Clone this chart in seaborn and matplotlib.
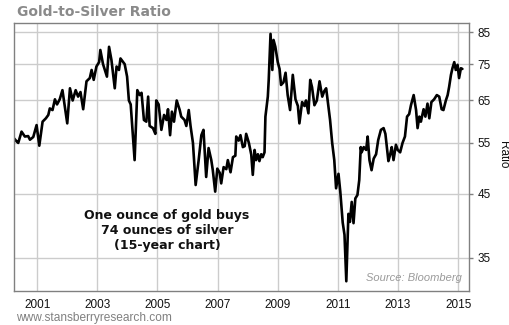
import matplotlib
matplotlib.use("Agg")
import matplotlib.pyplot as plt
import matplotlib.ticker as mticker
import numpy as np
import pandas as pd
import seaborn as sns

# Weekly-ish gold-to-silver ratio, decimal years
years = [
    2000.23, 2000.32, 2000.37, 2000.48, 2000.59, 2000.70, 2000.76, 2000.87, 2000.98, 2001.07,
    2001.18, 2001.29, 2001.37, 2001.42, 2001.51, 2001.59, 2001.66, 2001.75, 2001.84, 2001.92,
    2002.00, 2002.09, 2002.18, 2002.28, 2002.36, 2002.44, 2002.53, 2002.64, 2002.75, 2002.81,
    2002.88, 2002.97, 2003.06, 2003.10, 2003.19, 2003.32, 2003.39, 2003.47, 2003.58, 2003.64,
    2003.72, 2003.77, 2003.91, 2003.99, 2004.05, 2004.11, 2004.24, 2004.33, 2004.41, 2004.47,
    2004.55, 2004.63, 2004.69, 2004.74, 2004.85, 2004.93, 2004.96, 2005.04, 2005.13, 2005.22,
    2005.30, 2005.35, 2005.42, 2005.48, 2005.55, 2005.64, 2005.74, 2005.79, 2005.90, 2005.96,
    2006.04, 2006.10, 2006.18, 2006.27, 2006.37, 2006.46, 2006.53, 2006.62, 2006.70, 2006.79,
    2006.84, 2006.92, 2006.99, 2007.07, 2007.12, 2007.20, 2007.29, 2007.34, 2007.43, 2007.51,
    2007.59, 2007.62, 2007.70, 2007.76, 2007.84, 2007.90, 2007.95, 2008.04, 2008.12, 2008.17,
    2008.23, 2008.28, 2008.34, 2008.39, 2008.45, 2008.50, 2008.56, 2008.59, 2008.67, 2008.70,
    2008.76, 2008.82, 2008.86, 2008.92, 2009.00, 2009.06, 2009.11, 2009.19, 2009.26, 2009.33,
    2009.41, 2009.50, 2009.59, 2009.67, 2009.72, 2009.81, 2009.89, 2009.94, 2010.02, 2010.08,
    2010.14, 2010.22, 2010.30, 2010.39, 2010.48, 2010.55, 2010.61, 2010.66, 2010.74, 2010.81,
    2010.88, 2010.94, 2011.02, 2011.08, 2011.16, 2011.22, 2011.28, 2011.35, 2011.40, 2011.46,
    2011.52, 2011.58, 2011.65, 2011.71, 2011.76, 2011.79, 2011.86, 2011.94, 2011.99, 2012.05,
    2012.12, 2012.19, 2012.27, 2012.34, 2012.43, 2012.52, 2012.58, 2012.63, 2012.68, 2012.74,
    2012.79, 2012.85, 2012.93, 2012.99, 2013.07, 2013.15, 2013.23, 2013.30, 2013.37, 2013.43,
    2013.52, 2013.60, 2013.65, 2013.71, 2013.76, 2013.85, 2013.91, 2013.98, 2014.04, 2014.11,
    2014.20, 2014.29, 2014.37, 2014.45, 2014.51, 2014.59, 2014.65, 2014.70, 2014.76, 2014.81,
    2014.87, 2014.92, 2014.98, 2015.03, 2015.09, 2015.14,
]
ratio = [
    56.0, 55.3, 55.0, 57.5, 56.4, 56.5, 55.7, 56.3, 59.0, 54.4,
    59.8, 60.6, 61.4, 63.0, 62.6, 65.3, 64.0, 65.3, 67.7, 63.4,
    59.4, 68.2, 65.0, 67.7, 66.0, 67.2, 62.8, 70.1, 71.0, 73.3,
    70.5, 74.3, 75.6, 79.3, 75.0, 71.4, 80.3, 76.2, 68.2, 74.3,
    73.3, 76.7, 75.0, 71.4, 65.0, 64.0, 51.4, 67.7, 66.4, 67.0,
    60.2, 59.8, 66.0, 58.8, 58.3, 57.0, 65.0, 64.0, 57.9, 61.4,
    60.2, 62.8, 56.7, 62.2, 59.8, 65.0, 62.6, 61.0, 60.2, 58.8,
    62.6, 58.8, 55.0, 46.6, 51.4, 56.7, 57.9, 48.1, 53.9, 51.4,
    49.4, 45.4, 49.7, 48.9, 46.9, 50.0, 49.6, 51.4, 49.0, 52.0,
    52.3, 56.4, 55.5, 56.7, 54.1, 54.3, 57.0, 55.0, 52.5, 48.5,
    53.5, 51.4, 52.6, 51.2, 52.6, 52.0, 53.0, 61.0, 66.0, 70.5,
    84.5, 73.3, 82.5, 80.3, 75.6, 73.6, 69.1, 69.8, 72.5, 66.4,
    62.6, 71.9, 65.3, 63.6, 59.4, 64.6, 63.6, 65.0, 61.8, 70.5,
    68.5, 63.8, 65.0, 70.1, 66.0, 67.5, 68.2, 65.0, 60.2, 55.0,
    51.4, 46.0, 48.7, 45.4, 40.2, 38.3, 31.9, 41.6, 40.3, 43.6,
    40.1, 44.2, 44.8, 47.5, 54.1, 53.0, 54.1, 53.5, 56.4, 51.4,
    49.4, 51.7, 52.6, 55.6, 57.9, 58.3, 57.0, 54.1, 51.2, 52.6,
    54.1, 51.4, 54.6, 53.5, 53.0, 55.0, 56.4, 61.0, 61.6, 63.8,
    66.4, 62.6, 58.3, 61.0, 59.8, 62.8, 61.0, 64.2, 60.6, 64.6,
    65.3, 66.4, 66.0, 62.8, 62.6, 65.0, 66.4, 68.6, 71.9, 73.8,
    75.6, 73.3, 74.8, 71.0, 73.8, 73.6,
]
year_ticks = [2001, 2003, 2005, 2007, 2009, 2011, 2013, 2015]
ratio_ticks = [35, 45, 55, 65, 75, 85]

df = pd.DataFrame({"year": years, "ratio": ratio})

sns.set_style("white")
plt.rcParams["font.family"] = ["Liberation Sans", "DejaVu Sans"]

fig = plt.figure(figsize=(5.1, 3.25), dpi=100)
ax = fig.add_axes([0.0275, 0.1046, 0.8921, 0.8256])

ax.set_yscale("log")
sns.lineplot(data=df, x="year", y="ratio", ax=ax, color="black", linewidth=1.9)

ax.set_xlim(2000.23, 2015.36)
ax.set_ylim(30.7, 88.3)

ax.set_xticks(year_ticks)
ax.set_xticklabels([str(y) for y in year_ticks])
ax.yaxis.set_major_locator(mticker.FixedLocator(ratio_ticks))
ax.yaxis.set_minor_locator(mticker.NullLocator())
ax.yaxis.set_major_formatter(mticker.FixedFormatter([str(v) for v in ratio_ticks]))
ax.yaxis.tick_right()

ax.grid(True, color="#cccccc", linewidth=1.0)
ax.set_axisbelow(True)
for s in ax.spines.values():
    s.set_color("#808080")
    s.set_linewidth(1.0)

ax.tick_params(axis="x", length=0, pad=6, labelsize=8.5, labelcolor="#111111")
ax.tick_params(axis="y", which="major", length=3, width=1, color="#808080",
               pad=3, labelsize=8.5, labelcolor="#111111", right=True, left=False)

ax.set_xlabel("")
ax.set_ylabel("")
fig.text(0.986, 0.525, "Ratio", rotation=270, ha="center", va="center",
         fontsize=8.5, color="#111111")

fig.text(0.033, 0.962, "Gold-to-Silver Ratio", ha="left", va="center",
         fontsize=10, fontweight="bold", color="#8a8a8a",
         family=["DejaVu Sans"])

fig.text(0.031, 0.022, "www.stansberryresearch.com", ha="left", va="center",
         fontsize=8.6, color="#808080")

ax.text(0.985, 0.03, "Source: Bloomberg", transform=ax.transAxes,
        ha="right", va="bottom", fontsize=8, style="italic", color="#9a9a9a")

ax.text(0.336, 0.224, "One ounce of gold buys\n74 ounces of silver\n(15-year chart)",
        transform=ax.transAxes, ha="center", va="center", fontsize=9,
        fontweight="bold", color="#111111", linespacing=1.2,
        family=["DejaVu Sans"])

fig.savefig("out.png", dpi=100)
